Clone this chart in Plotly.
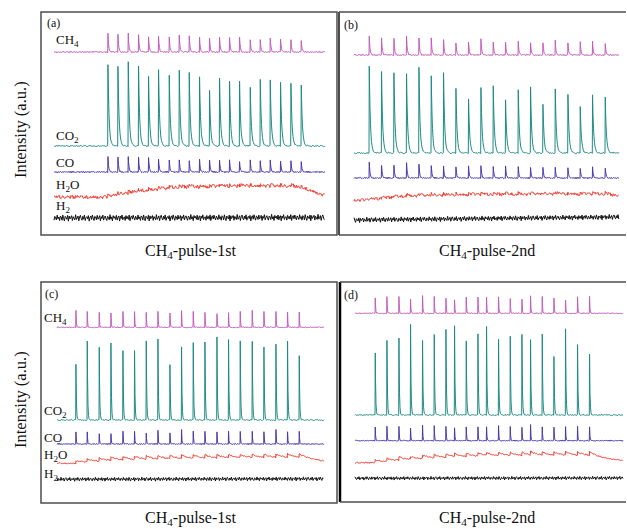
import numpy as np
import plotly.graph_objects as go

W, H = 627, 529

# ------------------------------------------------------------------
# Data (time in a.u., intensity in a.u.)
# ------------------------------------------------------------------
species = ["CH<sub>4</sub>", "CO<sub>2</sub>", "CO", "H<sub>2</sub>O", "H<sub>2</sub>"]
panel_tags = ["(a)", "(b)", "(c)", "(d)"]
panel_titles = ["CH<sub>4</sub>-pulse-1st", "CH<sub>4</sub>-pulse-2nd",
                "CH<sub>4</sub>-pulse-1st", "CH<sub>4</sub>-pulse-2nd"]
ylabel = "Intensity (a.u.)"

# run lengths (time axis extent of each recording)
run_length = [271, 265, 267, 268]

# pulse injection times
a_t = [53.7, 63.7, 74, 84.3, 94.3, 104.3, 115, 125, 135, 145.3, 155.3, 165.3, 175.3, 185.3, 196, 206, 216, 226.3, 236.7, 247]
b_t = [15, 27.3, 39.7, 52.3, 64.7, 77, 89.3, 101.7, 114.3, 126.7, 139, 151.3, 164, 176.3, 188.7, 201, 213.7, 226, 238.3, 251]
c_t = [18.7, 30, 42, 53.7, 65.7, 77.3, 89, 100.7, 112.7, 124.3, 136, 147.7, 159.7, 171.3, 183, 195, 206.7, 218.7, 230.3, 242]
d_t = [20, 31.7, 43.7, 55.3, 67.3, 79, 90.7, 99.3, 111, 122.7, 131.3, 143.3, 155, 166.7, 175.3, 187, 198.7, 210.3, 222.3, 234.3]

# pulse heights: CH4
a_ch4 = [19, 17.3, 18.3, 17.3, 15.7, 15.7, 15, 16.7, 15.7, 15, 13.3, 15, 15, 15, 12.3, 12.3, 14, 13.3, 12.3, 11.7]
b_ch4 = [19.3, 16.7, 16.7, 18.3, 17.3, 16.7, 16, 11.7, 13.3, 15.7, 13.3, 13.3, 13.3, 11.7, 12.7, 14.3, 11.7, 12.7, 13.3, 11.7]
c_ch4 = [16.7, 15.7, 14.7, 14, 16.3, 15.7, 14.7, 15.7, 14.7, 16.7, 15.7, 14.7, 14, 14.7, 15.7, 16.7, 15.7, 15.7, 14.7, 15]
d_ch4 = [15.7, 16.7, 16.7, 14.3, 17.7, 16.7, 15, 14, 15.7, 16.7, 15.7, 16.7, 14.3, 14.3, 17.7, 16.7, 15.7, 13.3, 16.7, 17.3]

# pulse heights: CO2
a_co2 = [81.7, 80.3, 84, 80, 69.3, 76, 71, 75.3, 73.3, 69.3, 55.3, 68.3, 64.3, 65, 58.7, 66, 66, 63.3, 62.3, 61]
b_co2 = [87, 81, 80, 78.7, 85.3, 76.7, 80, 64.3, 53.7, 66, 67.7, 53.7, 62.7, 66, 48.3, 64.3, 58.7, 46.7, 58.7, 56]
c_co2 = [55.7, 79, 72.7, 76.7, 69, 69, 79, 80.7, 55, 72.7, 77.3, 77.7, 82.7, 80, 79, 78.3, 72.7, 76, 79, 64]
d_co2 = [62.3, 74.3, 77, 90.7, 75, 80, 85.7, 89, 74, 81.3, 89, 75.7, 78.3, 80.7, 75, 81.3, 58, 86, 70, 60.7]

# pulse heights: CO
a_co = [15, 15, 15, 14.3, 14.3, 13.3, 12.3, 12.7, 11.7, 12.3, 12.3, 11.7, 11.7, 10.7, 11.7, 10.7, 11.7, 10.7, 10.7, 10]
b_co = [15.7, 12.7, 12.7, 15, 14.3, 12.7, 11.7, 11.7, 11.7, 11.7, 11.7, 11.7, 11, 10, 10.7, 10.7, 10, 10, 10.7, 10]
c_co = [11.7, 12.3, 10.7, 10.7, 13, 12.3, 11.3, 14, 11.3, 14, 13.3, 13, 12.3, 12.3, 13, 13, 12.3, 14.7, 12.3, 13]
d_co = [13.3, 14, 14, 12.3, 15, 15, 14, 13.3, 14, 14, 14, 15, 14, 13, 15.7, 14, 14, 14, 14, 14]

# H2O: per-pulse ripple heights and slow level (time, level)
a_h2o_rip = [1.5, 1.8, 1.6, 2.0, 1.7, 1.5, 1.9, 1.6, 1.8, 1.5, 1.7, 2.0, 1.6, 1.8, 1.5, 1.9, 1.7, 1.6, 1.8, 1.7]
b_h2o_rip = [1.4, 1.8, 1.5, 2.0, 1.6, 1.9, 1.5, 1.7, 2.0, 1.6, 1.5, 1.8, 1.9, 1.6, 1.7, 2.0, 1.5, 1.8, 1.6, 2.0]
c_h2o_rip = [2.6, 3.0, 3.2, 3.0, 3.4, 3.1, 3.3, 3.0, 3.2, 3.5, 3.1, 3.3, 3.0, 3.4, 3.2, 3.0, 3.3, 3.1, 3.6, 3.4]
d_h2o_rip = [2.8, 3.2, 3.4, 3.0, 3.6, 3.3, 3.5, 3.1, 3.6, 3.4, 3.2, 3.5, 3.0, 3.4, 3.6, 3.3, 3.2, 3.5, 3.3, 3.4]
a_h2o_lvl_t = [0, 54, 70, 104, 130, 200, 240, 256, 271]
a_h2o_lvl = [0, 0, 3, 7.5, 9.5, 10.5, 10, 6.5, 1.5]
b_h2o_lvl_t = [0, 15, 50, 120, 200, 251, 265]
b_h2o_lvl = [0, 0, 3.5, 5, 5.5, 5.5, 3.5]
c_h2o_lvl_t = [0, 18.7, 60, 120, 180, 242, 267]
c_h2o_lvl = [0, 0, 2.5, 4, 4.8, 5.2, 2.2]
d_h2o_lvl_t = [0, 20, 80, 140, 200, 234.3, 268]
d_h2o_lvl = [0, 0, 4, 6, 6.6, 6.5, 2.0]

# H2 slow level (time, level)
a_h2_lvl_t = [0, 271]
a_h2_lvl = [0, 0.5]
b_h2_lvl_t = [0, 265]
b_h2_lvl = [0, 3]
c_h2_lvl_t = [0, 267]
c_h2_lvl = [0, 0.5]
d_h2_lvl_t = [0, 268]
d_h2_lvl = [0, 0.3]

# detector noise pattern (hand-read jitter, normalised)
jitter = [0.3, -0.7, 0.9, -0.2, -0.9, 0.5, 0.1, -0.4, 0.8, -1.0, 0.6, -0.3, 0.2, 0.7, -0.8, 0.4, -0.1,
          -0.6, 1.0, -0.5, 0.0, 0.6, -0.9, 0.3, 0.8, -0.2, -0.7, 0.5, -0.4, 0.9, -0.8, 0.1, 0.4, -0.3,
          0.7, -1.0, 0.2, 0.6, -0.5, 0.9, -0.1, -0.8, 0.5, 0.3, -0.6, 0.8, -0.4, 0.0, 0.7, -0.9, 0.4,
          -0.2, 0.9, -0.7, 0.1, 0.6, -0.3, -0.8, 0.5, 0.2, -0.6, 1.0, -0.4, 0.3, -0.9, 0.7, -0.1, 0.4,
          -0.5, 0.8, -0.7, 0.2, 0.6, -1.0, 0.5, -0.2, 0.9, -0.6, 0.1, 0.3, -0.8, 0.7, -0.3, 0.4, -0.5,
          0.9, -0.9, 0.2, 0.6, -0.4, 0.8, -0.1, -0.7, 0.5, 0.0, -0.6, 0.9, -0.3, 0.3, -0.8, 0.6]

# ------------------------------------------------------------------
# Layout / style constants (pixel geometry of the reference)
# ------------------------------------------------------------------
colors = ["#c25cba", "#1d8b82", "#4838ab", "#f23a2c", "#111111"]
# frames: x0, y0, x1, y1 (px), trace start px
frames = [(41, 12, 337, 235, 54), (339, 12, 626, 235, 354),
          (41, 282, 337, 503, 57), (340, 282, 626, 502, 355)]
# baseline pixel rows per species
baselines = [(52, 146, 172, 197, 218), (55, 153, 178, 200, 220),
             (327.3, 420, 444, 463.3, 479.3), (313.3, 415, 440.7, 462.7, 478.3)]
taus = [  # CH4, CO2, CO, H2O
    (0.7, 1.1, 0.7, 6.0), (0.7, 1.1, 0.7, 6.0), (0.35, 0.45, 0.35, 8.0), (0.35, 0.45, 0.35, 8.0)]
noise_amp = [(0.6, 0.6, 0.6, 1.7, 3.2), (0.6, 0.6, 0.6, 1.5, 2.6),
             (0.5, 0.5, 0.5, 0.6, 2.0), (0.5, 0.5, 0.5, 0.6, 1.8)]
strides = [7, 13, 17, 3, 1]
steps = [0.5, 0.5, 0.5, 0.6, 0.8]

pulse_t = [a_t, b_t, c_t, d_t]
ch4 = [a_ch4, b_ch4, c_ch4, d_ch4]
co2 = [a_co2, b_co2, c_co2, d_co2]
co = [a_co, b_co, c_co, d_co]
h2o_rip = [a_h2o_rip, b_h2o_rip, c_h2o_rip, d_h2o_rip]
h2o_lvl = [(a_h2o_lvl_t, a_h2o_lvl), (b_h2o_lvl_t, b_h2o_lvl), (c_h2o_lvl_t, c_h2o_lvl), (d_h2o_lvl_t, d_h2o_lvl)]
h2_lvl = [(a_h2_lvl_t, a_h2_lvl), (b_h2_lvl_t, b_h2_lvl), (c_h2_lvl_t, c_h2_lvl), (d_h2_lvl_t, d_h2_lvl)]

J = np.array(jitter)
RISE = 0.25


def build(length, times, heights, tau, amp, stride, phase, lvl=None, step=0.5):
    xs = list(np.arange(0, length + 1e-9, step))
    if times is not None:
        for tp in times:
            xs += [tp, tp + RISE]
    xs = np.array(sorted(set(np.round(xs, 3))))
    y = np.zeros_like(xs)
    if times is not None:
        for tp, h in zip(times, heights):
            dt = xs - tp
            r = (dt >= 0) & (dt < RISE)
            y[r] += h * dt[r] / RISE
            d = dt >= RISE
            y[d] += h * np.exp(-(dt[d] - RISE) / tau)
    idx = (np.arange(len(xs)) * stride + phase) % len(J)
    y = y + amp * J[idx]
    if lvl is not None:
        y = y + np.interp(xs, lvl[0], lvl[1])
    return xs, y


fig = go.Figure()

for p in range(4):
    fx0, fy0, fx1, fy1, xs0 = frames[p]
    ax = "" if p == 0 else str(p + 1)
    L = run_length[p]
    series = [
        (pulse_t[p], ch4[p], taus[p][0], None),
        (pulse_t[p], co2[p], taus[p][1], None),
        (pulse_t[p], co[p], taus[p][2], None),
        (pulse_t[p], h2o_rip[p], taus[p][3], h2o_lvl[p]),
        (None, None, 1.0, h2_lvl[p]),
    ]
    for s, (tt, hh, tau, lvl) in enumerate(series):
        x, y = build(L, tt, hh, tau, noise_amp[p][s], strides[s], 11 * p + 23 * s, lvl,
                     step=steps[s])
        off = fy1 - baselines[p][s]
        fig.add_trace(go.Scatter(x=x, y=y + off, mode="lines",
                                 line=dict(color=colors[s], width=1.0, simplify=False),
                                 hoverinfo="skip", showlegend=False,
                                 xaxis="x" + ax, yaxis="y" + ax))
    fig.layout["xaxis" + ax] = dict(domain=[fx0 / W, fx1 / W], range=[fx0 - xs0, fx1 - xs0],
                                     visible=False, anchor="y" + ax)
    fig.layout["yaxis" + ax] = dict(domain=[1 - fy1 / H, 1 - fy0 / H], range=[0, fy1 - fy0],
                                     visible=False, anchor="x" + ax)


def px(x, y):
    return x / W, 1 - y / H


shapes = []
frame_col = "#4d4d4d"
# (a) and (c): full boxes
for (x0, y0, x1, y1) in [(41, 12, 337, 235), (41, 282, 337, 503)]:
    a0, b1 = px(x0, y0)
    a1, b0 = px(x1, y1)
    shapes.append(dict(type="rect", xref="paper", yref="paper", x0=a0, x1=a1, y0=b0, y1=b1,
                       line=dict(color=frame_col, width=1.5)))
# (b) and (d): open on the right
for (x0, y0, x1, y1, col, lw) in [(339, 12, 626, 235, "#4d4d4d", 2), (340, 282, 626, 502, "#000000", 2.5)]:
    a0, b1 = px(x0, y0)
    a1, b0 = px(x1, y1)
    shapes.append(dict(type="line", xref="paper", yref="paper", x0=a0, x1=a0, y0=b0, y1=b1,
                       line=dict(color=col, width=lw)))
    shapes.append(dict(type="line", xref="paper", yref="paper", x0=a0, x1=a1, y0=b1, y1=b1,
                       line=dict(color=frame_col, width=1.5)))
    shapes.append(dict(type="line", xref="paper", yref="paper", x0=a0, x1=a1, y0=b0, y1=b0,
                       line=dict(color=frame_col, width=1.5)))

ann = []
serif = "Liberation Serif"


def text(x, y, s, size, xanchor="left", angle=0):
    a, b = px(x, y)
    ann.append(dict(x=a, y=b, xref="paper", yref="paper", text=s, showarrow=False,
                    xanchor=xanchor, yanchor="middle", textangle=angle,
                    font=dict(family=serif, size=size, color="#111")))


# panel tags
for tag, (x, y) in zip(panel_tags, [(45, 23), (342, 25), (43, 294), (342, 295)]):
    text(x, y, tag, 12)
# x titles
for t, (x, y) in zip(panel_titles, [(190, 251), (487, 251), (190, 518), (487, 518)]):
    text(x, y, t, 16, xanchor="center")
# y titles
for y in (130, 400):
    text(20, y, ylabel, 16.5, xanchor="center", angle=-90)
# species labels in (a) and (c)
for s, (x, y) in enumerate([(54, 41), (54, 136), (54, 162), (54, 185), (54, 207)]):
    text(x, y, species[s], 13)
for s, (x, y) in enumerate([(42, 318), (42, 411), (42, 437), (42, 455), (42, 474)]):
    text(x, y, species[s], 13)

fig.update_layout(width=W, height=H, margin=dict(l=0, r=0, t=0, b=0),
                  paper_bgcolor="white", plot_bgcolor="white",
                  shapes=shapes, annotations=ann, showlegend=False)

fig.write_html("out.html", config={"displayModeBar": False},
               post_script="document.body.style.margin='0';document.body.style.overflow='hidden';")
